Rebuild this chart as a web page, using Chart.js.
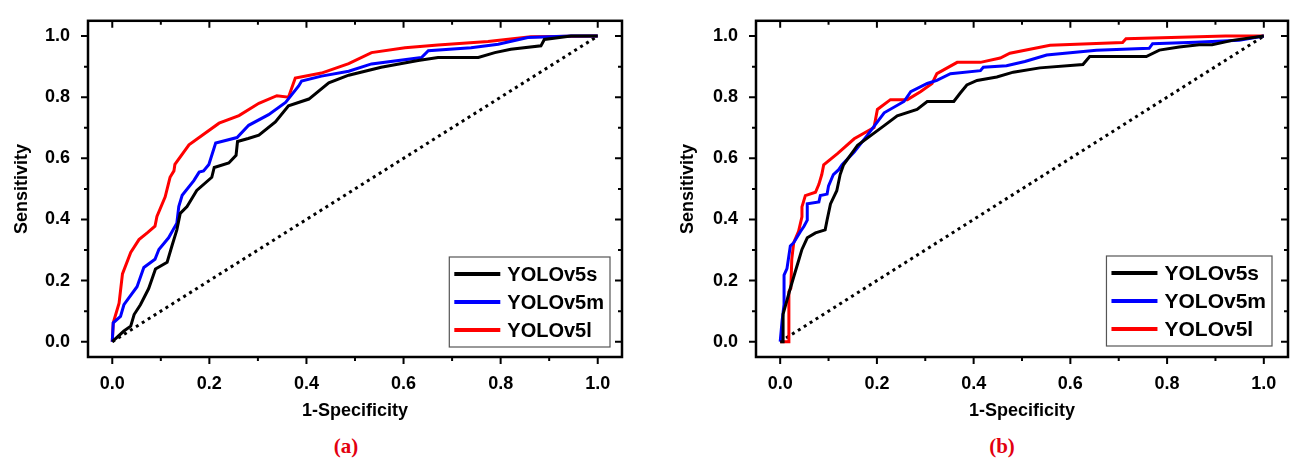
<!DOCTYPE html>
<html>
<head>
<meta charset="utf-8">
<script src="https://cdn.jsdelivr.net/npm/chart.js@4.4.1/dist/chart.umd.min.js"></script>
<style>
  body { margin: 0; background: #fff; width: 1291px; height: 464px; position: relative; overflow: hidden; }
  canvas { position: absolute; top: 0; }
  .cap { position: absolute; top: 434px; font: bold 21px "Liberation Serif", serif; color: #e3000f; transform: translateX(-50%); }
</style>
</head>
<body>
<canvas id="rocA" width="640" height="430" style="left:0"></canvas>
<canvas id="rocB" width="651" height="430" style="left:640px"></canvas>
<div class="cap" style="left:346px">(a)</div>
<div class="cap" style="left:1002px">(b)</div>
<script>
// series names + tick values
var models = ['YOLOv5s', 'YOLOv5m', 'YOLOv5l'];
var colors = ['#000000', '#0000ff', '#ff0000'];
var tickVals = [0, 0.2, 0.4, 0.6, 0.8, 1.0];

// panel (a) : 1-specificity (x) / sensitivity (y)
var a_s_x = [0, 0.024, 0.038, 0.045, 0.058, 0.075, 0.089, 0.113, 0.123, 0.133, 0.14, 0.154, 0.174, 0.205, 0.21, 0.24, 0.255, 0.258, 0.28, 0.302, 0.336, 0.363, 0.405, 0.446, 0.487, 0.554, 0.63, 0.671, 0.754, 0.788, 0.821, 0.883, 0.89, 0.945, 1.0];
var a_s_y = [0, 0.035, 0.051, 0.089, 0.121, 0.174, 0.238, 0.26, 0.314, 0.366, 0.42, 0.442, 0.495, 0.538, 0.57, 0.585, 0.61, 0.655, 0.665, 0.676, 0.719, 0.772, 0.794, 0.847, 0.872, 0.898, 0.92, 0.93, 0.93, 0.946, 0.957, 0.968, 0.989, 1.0, 1.0];
var a_m_x = [0, 0.002, 0.017, 0.024, 0.051, 0.065, 0.088, 0.096, 0.116, 0.133, 0.137, 0.144, 0.168, 0.179, 0.188, 0.199, 0.213, 0.257, 0.281, 0.322, 0.357, 0.384, 0.39, 0.431, 0.487, 0.534, 0.637, 0.651, 0.739, 0.795, 0.856, 0.945, 1.0];
var a_m_y = [0, 0.062, 0.083, 0.121, 0.18, 0.243, 0.27, 0.302, 0.34, 0.388, 0.442, 0.479, 0.527, 0.555, 0.559, 0.58, 0.65, 0.668, 0.708, 0.743, 0.783, 0.837, 0.853, 0.869, 0.885, 0.909, 0.93, 0.952, 0.962, 0.973, 0.995, 1.0, 1.0];
var a_l_x = [0, 0.002, 0.014, 0.021, 0.038, 0.055, 0.072, 0.088, 0.092, 0.109, 0.119, 0.127, 0.129, 0.158, 0.22, 0.261, 0.302, 0.339, 0.363, 0.377, 0.431, 0.487, 0.534, 0.603, 0.671, 0.774, 0.862, 1.0];
var a_l_y = [0, 0.062, 0.126, 0.222, 0.292, 0.334, 0.356, 0.378, 0.41, 0.474, 0.538, 0.559, 0.58, 0.644, 0.715, 0.74, 0.78, 0.805, 0.8, 0.863, 0.879, 0.91, 0.946, 0.962, 0.971, 0.982, 0.998, 1.0];

// panel (b)
var b_s_x = [0, 0.006, 0.006, 0.021, 0.031, 0.038, 0.045, 0.056, 0.073, 0.093, 0.097, 0.104, 0.117, 0.124, 0.131, 0.16, 0.215, 0.242, 0.283, 0.304, 0.359, 0.372, 0.386, 0.407, 0.448, 0.482, 0.537, 0.626, 0.64, 0.757, 0.784, 0.825, 0.866, 0.893, 0.935, 1.0];
var b_s_y = [0, 0, 0.09, 0.175, 0.228, 0.265, 0.302, 0.34, 0.356, 0.366, 0.398, 0.451, 0.494, 0.547, 0.579, 0.643, 0.707, 0.739, 0.76, 0.786, 0.786, 0.813, 0.84, 0.855, 0.866, 0.882, 0.896, 0.907, 0.933, 0.933, 0.954, 0.964, 0.972, 0.972, 0.986, 1.0];
var b_m_x = [0, 0.004, 0.008, 0.008, 0.014, 0.021, 0.028, 0.042, 0.049, 0.056, 0.056, 0.08, 0.083, 0.097, 0.1, 0.11, 0.121, 0.128, 0.153, 0.18, 0.215, 0.256, 0.27, 0.304, 0.324, 0.352, 0.414, 0.42, 0.468, 0.506, 0.551, 0.654, 0.763, 0.77, 0.859, 0.949, 1.0];
var b_m_y = [0, 0.069, 0.122, 0.218, 0.239, 0.313, 0.324, 0.361, 0.377, 0.398, 0.451, 0.457, 0.478, 0.483, 0.51, 0.547, 0.563, 0.579, 0.621, 0.675, 0.749, 0.786, 0.818, 0.845, 0.855, 0.877, 0.887, 0.898, 0.903, 0.917, 0.938, 0.954, 0.96, 0.975, 0.98, 0.986, 1.0];
var b_l_x = [0, 0.018, 0.018, 0.022, 0.024, 0.028, 0.038, 0.045, 0.045, 0.052, 0.073, 0.08, 0.086, 0.09, 0.119, 0.153, 0.194, 0.201, 0.228, 0.263, 0.29, 0.314, 0.324, 0.366, 0.414, 0.455, 0.475, 0.558, 0.708, 0.715, 0.921, 1.0];
var b_l_y = [0, 0, 0.164, 0.175, 0.27, 0.324, 0.361, 0.409, 0.441, 0.478, 0.489, 0.515, 0.547, 0.579, 0.616, 0.664, 0.701, 0.76, 0.792, 0.792, 0.818, 0.845, 0.877, 0.914, 0.914, 0.928, 0.944, 0.97, 0.979, 0.991, 1.0, 1.0];

// chance line
var diagX = [0, 1];
var diagY = [0, 1];

function pts(xs, ys) {
  return xs.map(function (x, i) { return { x: x, y: ys[i] }; });
}

// frame, Origin-style ticks and the boxed legend
var framePlugin = {
  id: 'frame',
  afterDatasetsDraw: function (chart, args, opts) {
    var ctx = chart.ctx, ca = chart.chartArea;
    var xs = chart.scales.x, ys = chart.scales.y;
    ctx.save();
    ctx.strokeStyle = '#000';
    ctx.lineWidth = 2.5;
    ctx.strokeRect(ca.left, ca.top, ca.right - ca.left, ca.bottom - ca.top);
    ctx.lineWidth = 2;
    ctx.beginPath();
    for (var k = 0; k <= 10; k++) {
      var v = k / 10, len = k % 2 === 0 ? 7 : 4;
      var px = xs.getPixelForValue(v), py = ys.getPixelForValue(v);
      ctx.moveTo(px, ca.bottom); ctx.lineTo(px, ca.bottom + len);
      ctx.moveTo(px, ca.top); ctx.lineTo(px, ca.top + len);
      ctx.moveTo(ca.left, py); ctx.lineTo(ca.left - len, py);
      ctx.moveTo(ca.right, py); ctx.lineTo(ca.right - len, py);
    }
    ctx.stroke();

    // legend
    ctx.font = 'bold ' + opts.fontSize + 'px "Liberation Sans", Arial, sans-serif';
    var wmax = 0;
    models.forEach(function (m) { wmax = Math.max(wmax, ctx.measureText(m).width); });
    var lineLen = 46, rowH = 28;
    var bw = 6 + lineLen + 6 + wmax + 6, bh = rowH * 3 + 6;
    var bx = ca.right - opts.right - bw, by = ca.bottom - opts.bottom - bh;
    ctx.lineWidth = 1.2;
    ctx.strokeStyle = '#555';
    ctx.fillStyle = '#fff';
    ctx.fillRect(bx, by, bw, bh);
    ctx.strokeRect(bx, by, bw, bh);
    ctx.textBaseline = 'middle';
    chart.data.datasets.slice(0, 3).forEach(function (ds, i) {
      var cy = by + 3 + rowH * (i + 0.5);
      ctx.strokeStyle = ds.borderColor;
      ctx.lineWidth = 4;
      ctx.beginPath();
      ctx.moveTo(bx + 5, cy); ctx.lineTo(bx + 5 + lineLen, cy);
      ctx.stroke();
      ctx.fillStyle = '#000';
      ctx.fillText(ds.label, bx + 6 + lineLen + 6, cy + 1);
    });
    ctx.restore();
  }
};

function makeRoc(id, series, geo) {
  var datasets = series.map(function (s, i) {
    return {
      label: models[i],
      data: pts(s[0], s[1]),
      borderColor: colors[i],
      borderWidth: 3,
      pointRadius: 0,
      tension: 0,
      fill: false
    };
  });
  datasets.push({
    label: 'chance',
    data: pts(diagX, diagY),
    borderColor: '#000',
    borderWidth: 3,
    borderDash: [3, 4],
    pointRadius: 0,
    fill: false
  });
  var tickFont = { family: '"Liberation Sans", Arial, sans-serif', size: 18, weight: 'bold' };
  var titleFont = { family: '"Liberation Sans", Arial, sans-serif', size: 18, weight: 'bold' };
  return new Chart(document.getElementById(id), {
    type: 'line',
    data: { datasets: datasets },
    plugins: [framePlugin],
    options: {
      responsive: false,
      animation: false,
      devicePixelRatio: 1,
      layout: { padding: { left: 0, top: 14, right: geo.padRight, bottom: 0 } },
      plugins: {
        legend: { display: false },
        tooltip: { enabled: false },
        frame: { fontSize: geo.legendFont, right: geo.legRight, bottom: geo.legBottom }
      },
      scales: {
        x: {
          type: 'linear',
          min: -0.05,
          max: 1.05,
          grid: { display: false },
          border: { display: false },
          afterBuildTicks: function (sc) { sc.ticks = tickVals.map(function (v) { return { value: v }; }); },
          afterFit: function (sc) { sc.height = 73; },
          ticks: { color: '#000', font: tickFont, padding: 8, maxRotation: 0, callback: function (v) { return v.toFixed(1); } },
          title: { display: true, text: '1-Specificity', color: '#000', font: titleFont, padding: { top: 0, bottom: 8 } }
        },
        y: {
          type: 'linear',
          min: -0.05,
          max: 1.05,
          grid: { display: false },
          border: { display: false },
          afterBuildTicks: function (sc) { sc.ticks = tickVals.map(function (v) { return { value: v }; }); },
          afterFit: function (sc) { sc.width = geo.yWidth; },
          ticks: { color: '#000', font: tickFont, padding: 10, callback: function (v) { return v.toFixed(1); } },
          title: { display: true, text: 'Sensitivity', color: '#000', font: titleFont, padding: { top: geo.yTitlePad, bottom: 0 } }
        }
      }
    }
  });
}

makeRoc('rocA', [[a_s_x, a_s_y], [a_m_x, a_m_y], [a_l_x, a_l_y]],
  { padRight: 18, yWidth: 88, yTitlePad: 11, legendFont: 20, legRight: 12, legBottom: 10 });
makeRoc('rocB', [[b_s_x, b_s_y], [b_m_x, b_m_y], [b_l_x, b_l_y]],
  { padRight: 3, yWidth: 116, yTitlePad: 37, legendFont: 21, legRight: 16, legBottom: 11 });
</script>
</body>
</html>
